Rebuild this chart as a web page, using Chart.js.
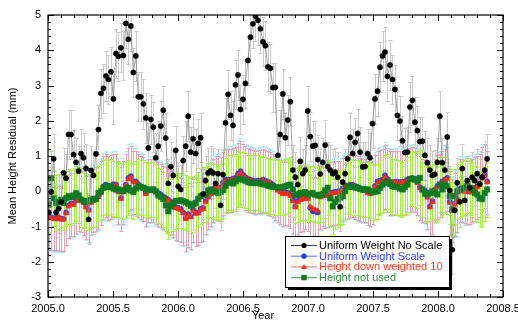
<!DOCTYPE html>
<html>
<head>
<meta charset="utf-8">
<script src="https://cdn.jsdelivr.net/npm/chart.js@4.4.1/dist/chart.umd.min.js"></script>
<style>
html,body{margin:0;padding:0;background:#fff;}
#wrap{width:518px;height:321px;position:relative;}
</style>
</head>
<body>
<div id="wrap"><canvas id="c" width="518" height="321"></canvas></div>
<script>
// Weekly sampling (decimal years)
const startYear = 2005.005;
const weekStep = 7 / 365.25;

const xTickLabels = ['2005.0','2005.5','2006.0','2006.5','2007.0','2007.5','2008.0','2008.5'];
const yTickLabels = ['-3','-2','-1','0','1','2','3','4','5'];
const seriesNames = ['Uniform Weight No Scale','Uniform Weight Scale','Height down weighted 10','Height not used'];

const noScaleVals = [
-0.60,-0.02,0.92,-0.60,-0.49,-0.30,0.52,0.37,1.61,1.61,
1.04,0.82,0.57,1.07,0.95,0.65,-0.80,0.59,0.45,1.06,
1.75,2.78,2.92,3.27,3.17,3.39,2.62,3.91,3.83,4.07,
3.85,4.76,4.31,4.69,3.37,3.84,2.68,2.68,2.48,2.08,
1.23,2.04,1.82,0.95,1.28,1.85,2.30,1.51,0.22,0.70,
0.45,1.16,0.14,0.05,0.87,1.28,2.13,1.11,1.49,1.07,
1.36,1.52,-0.08,0.30,0.52,0.58,0.52,0.22,0.50,-0.40,
0.47,1.94,2.75,2.15,1.87,3.02,3.30,2.32,2.61,3.06,
3.71,4.37,4.75,4.97,4.85,4.61,4.24,4.13,3.53,3.49,
2.94,2.95,1.02,1.61,2.76,1.52,2.02,2.54,0.60,0.40,
0.19,0.85,0.50,0.60,2.28,1.55,1.28,1.30,0.90,0.49,
0.82,1.31,0.70,0.60,0.50,0.54,0.40,-0.44,0.26,0.50,
0.92,1.53,1.07,1.39,1.64,1.11,0.69,0.70,1.07,0.95,
1.92,2.62,2.84,3.52,3.84,3.95,3.26,3.58,3.17,2.89,
2.15,1.99,1.43,1.10,1.11,2.39,2.58,1.96,1.72,1.41,
1.42,1.02,0.81,0.60,0.45,0.48,0.82,2.13,0.81,0.60,
1.54,0.02,-1.66,-0.54,0.24,-0.30,0.64,-0.26,0.30,0.10,
0.40,0.30,0.50,0.21,0.40,0.60,0.92];

const scaleVals = [
-0.71,-0.74,-0.76,-0.76,-0.74,-0.78,-0.78,-0.60,-0.40,-0.35,
-0.36,-0.25,-0.19,-0.22,-0.30,-0.43,-0.52,-0.30,-0.25,-0.20,
-0.14,-0.02,0.14,0.19,0.12,0.15,0.20,0.19,0.00,-0.19,
0.00,0.19,0.38,0.43,0.28,0.28,0.20,0.14,0.10,-0.05,
0.05,0.05,0.05,0.00,-0.05,-0.09,-0.15,-0.19,-0.24,-0.30,
-0.38,-0.45,-0.47,-0.50,-0.60,-0.76,-0.65,-0.71,-0.52,-0.61,
-0.60,-0.50,-0.47,-0.28,-0.15,-0.05,0.05,0.14,0.12,0.10,
0.25,0.33,0.33,0.33,0.36,0.38,0.50,0.57,0.47,0.40,
0.35,0.33,0.30,0.28,0.30,0.30,0.33,0.30,0.27,0.24,
0.19,0.12,0.05,0.00,-0.05,-0.02,-0.05,-0.10,-0.25,-0.43,
-0.28,-0.22,-0.20,-0.15,-0.19,-0.47,-0.57,-0.55,-0.60,-0.14,
-0.05,-0.10,-0.08,-0.05,-0.03,-0.02,0.00,0.00,0.08,0.14,
0.16,0.19,0.19,0.15,0.12,0.08,0.05,0.05,-0.02,-0.05,
0.00,0.15,0.28,0.30,0.33,0.45,0.35,0.26,0.26,0.27,
0.27,0.26,0.27,0.28,0.33,0.35,0.38,0.35,0.26,0.12,
0.05,0.02,-0.15,-0.43,-0.28,0.05,0.15,0.19,0.28,0.33,
0.38,-0.30,-0.52,-0.35,-0.24,0.05,0.05,0.02,0.00,0.00,
0.05,0.10,0.14,0.20,0.40,0.47,0.28];

const downWeightVals = [
-0.74,-0.76,-0.78,-0.78,-0.76,-0.80,-0.80,-0.63,-0.43,-0.38,
-0.38,-0.28,-0.22,-0.25,-0.33,-0.46,-0.55,-0.33,-0.27,-0.22,
-0.17,-0.05,0.11,0.16,0.09,0.12,0.17,0.16,-0.03,-0.22,
-0.03,0.16,0.34,0.39,0.25,0.25,0.17,0.11,0.07,-0.08,
0.02,0.02,0.02,-0.03,-0.08,-0.12,-0.18,-0.22,-0.27,-0.33,
-0.41,-0.48,-0.50,-0.53,-0.63,-0.79,-0.68,-0.74,-0.55,-0.64,
-0.63,-0.53,-0.50,-0.31,-0.18,-0.08,0.02,0.11,0.09,0.07,
0.22,0.30,0.30,0.30,0.33,0.35,0.46,0.53,0.44,0.37,
0.32,0.30,0.27,0.25,0.27,0.27,0.30,0.27,0.24,0.21,
0.16,0.09,0.02,-0.03,-0.08,-0.05,-0.08,-0.13,-0.28,-0.46,
-0.31,-0.25,-0.23,-0.18,-0.22,-0.44,-0.50,-0.52,-0.56,-0.17,
-0.08,-0.13,-0.11,-0.08,-0.06,-0.05,-0.03,-0.03,0.05,0.11,
0.13,0.16,0.16,0.12,0.09,0.05,0.02,0.02,-0.05,-0.08,
-0.03,0.12,0.25,0.27,0.30,0.41,0.32,0.23,0.23,0.24,
0.24,0.23,0.24,0.25,0.30,0.32,0.35,0.32,0.23,0.09,
0.02,-0.01,-0.18,-0.46,-0.31,0.02,0.12,0.16,0.25,0.30,
0.35,-0.33,-0.55,-0.38,-0.27,0.02,0.02,-0.01,-0.03,-0.03,
0.02,0.07,0.11,0.17,0.36,0.43,0.25];

const notUsedVals = [
-0.38,0.37,-0.20,-0.33,-0.30,-0.24,-0.33,-0.20,-0.14,-0.17,
-0.12,-0.05,-0.12,-0.24,-0.27,-0.31,-0.28,-0.24,-0.22,-0.22,
-0.05,0.00,0.10,0.14,0.12,0.14,0.08,0.05,0.05,0.03,
0.00,0.05,0.10,0.02,-0.02,0.08,0.14,0.12,0.10,0.06,
0.03,0.04,0.05,0.00,-0.12,-0.16,-0.22,-0.40,-0.57,-0.43,
-0.35,-0.28,-0.27,-0.26,-0.28,-0.31,-0.35,-0.41,-0.37,-0.33,
-0.22,-0.14,-0.10,-0.09,0.02,0.05,0.00,-0.02,-0.05,-0.02,
0.03,0.15,0.26,0.24,0.22,0.28,0.35,0.34,0.33,0.30,
0.26,0.24,0.24,0.24,0.24,0.22,0.20,0.19,0.16,0.14,
0.13,0.12,0.11,0.10,0.12,0.14,0.17,0.19,0.05,-0.12,
-0.08,-0.05,-0.04,-0.03,-0.09,-0.07,-0.05,-0.10,-0.12,-0.10,
-0.09,0.02,0.10,-0.20,-0.43,-0.30,-0.22,-0.18,-0.14,0.00,
0.14,0.13,0.12,0.11,0.10,0.07,0.05,0.05,0.05,0.01,
-0.03,-0.01,0.00,0.10,0.19,0.24,0.28,0.20,0.14,0.13,
0.12,0.08,0.05,0.12,0.19,0.35,0.35,0.33,0.30,0.38,
0.05,-0.07,-0.09,-0.05,0.00,-0.04,-0.09,0.19,0.05,0.20,
0.14,-0.14,-0.52,-0.14,0.00,0.05,0.08,0.10,0.15,0.10,
0.05,-0.05,-0.09,-0.20,-0.22,-0.05,0.05];

// one-sigma error bar half-lengths (mm)
const errHalf = [0.70, 0.95, 0.90, 0.78];

const years = noScaleVals.map((_, i) => +(startYear + i * weekStep).toFixed(4));
const toPts = vals => vals.map((v, i) => ({x: years[i], y: v}));

const FONT = "'Liberation Sans', Arial, Helvetica, sans-serif";
Chart.defaults.font.family = FONT;
Chart.defaults.font.size = 11;
Chart.defaults.color = '#000';

const styles = [
  {line:'#8c8c8c', pt:'#000000', err:'#c9c9c9', shape:'circle', r:2.6, text:'#000000', legLine:'#4a4a4a', order:0},
  {line:'#6f82ff', pt:'#2438f0', err:'#b4ecf4', shape:'circle', r:2.6, text:'#2b3bf5', legLine:'#6f82ff', order:3},
  {line:'#ff8a7a', pt:'#ff2a10', err:'#e3a3b8', shape:'triangle', r:3.2, text:'#ff3b1f', legLine:'#ff8a7a', order:2},
  {line:'#5aaa66', pt:'#0d7a22', err:'#a6ef3a', shape:'rect', r:3.9, text:'#2e8b3e', legLine:'#5aaa66', order:1}
];
const allVals = [noScaleVals, scaleVals, downWeightVals, notUsedVals];

const datasets = allVals.map((vals, k) => ({
  label: seriesNames[k],
  data: toPts(vals),
  showLine: true,
  borderColor: styles[k].line,
  borderWidth: 0.8,
  pointStyle: styles[k].shape,
  pointRadius: styles[k].r,
  pointBackgroundColor: styles[k].pt,
  pointBorderColor: styles[k].pt,
  pointBorderWidth: 0.5,
  order: styles[k].order,
  errHalf: errHalf[k],
  errColor: styles[k].err
}));

const errorBars = {
  id: 'errorBars',
  beforeDatasetsDraw(chart) {
    const {ctx, chartArea: a, scales: {x, y}} = chart;
    ctx.save();
    ctx.beginPath(); ctx.rect(a.left, a.top, a.right - a.left, a.bottom - a.top); ctx.clip();
    chart.data.datasets.forEach(ds => {
      ctx.strokeStyle = ds.errColor;
      ctx.lineWidth = 1;
      ctx.beginPath();
      ds.data.forEach(p => {
        const px = Math.round(x.getPixelForValue(p.x)) + 0.5;
        const y1 = Math.round(y.getPixelForValue(p.y + ds.errHalf)) + 0.5;
        const y2 = Math.round(y.getPixelForValue(p.y - ds.errHalf)) + 0.5;
        ctx.moveTo(px, y1); ctx.lineTo(px, y2);
        ctx.moveTo(px - 2, y1); ctx.lineTo(px + 2, y1);
        ctx.moveTo(px - 2, y2); ctx.lineTo(px + 2, y2);
      });
      ctx.stroke();
    });
    ctx.restore();
  }
};

const frameAndLegend = {
  id: 'frameAndLegend',
  afterDraw(chart) {
    const {ctx, chartArea: a, scales: {x, y}} = chart;
    ctx.save();
    // frame
    ctx.strokeStyle = '#000'; ctx.lineWidth = 1.2;
    ctx.strokeRect(a.left, a.top, a.right - a.left, a.bottom - a.top);
    // inward ticks
    ctx.lineWidth = 1;
    ctx.beginPath();
    for (let k = 0; k <= 35; k++) {
      const px = Math.round(x.getPixelForValue(2005 + k * 0.1)) + 0.5;
      const len = (k % 5 === 0) ? 6 : 3;
      ctx.moveTo(px, a.bottom); ctx.lineTo(px, a.bottom - len);
      ctx.moveTo(px, a.top); ctx.lineTo(px, a.top + len);
    }
    for (let k = 0; k <= 40; k++) {
      const py = Math.round(y.getPixelForValue(-3 + k * 0.2)) + 0.5;
      const len = (k % 5 === 0) ? 6 : 3;
      ctx.moveTo(a.left, py); ctx.lineTo(a.left + len, py);
      ctx.moveTo(a.right, py); ctx.lineTo(a.right - len, py);
    }
    ctx.stroke();

    // axis titles
    ctx.fillStyle = '#000';
    ctx.font = '11px ' + FONT;
    ctx.textAlign = 'center'; ctx.textBaseline = 'alphabetic';
    ctx.fillText('Year', 263, 319);
    ctx.save();
    ctx.translate(16, (a.top + a.bottom) / 2);
    ctx.rotate(-Math.PI / 2);
    ctx.fillText('Mean Height Residual (mm)', 0, 0);
    ctx.restore();

    // legend
    const bx = 285, by = 236, bw = 164, bh = 51;
    ctx.fillStyle = '#000';
    ctx.fillRect(bx + 3, by + 3, bw, bh);
    ctx.fillStyle = '#fff';
    ctx.fillRect(bx, by, bw, bh);
    ctx.strokeStyle = '#000'; ctx.lineWidth = 1;
    ctx.strokeRect(bx + 0.5, by + 0.5, bw, bh);
    ctx.textAlign = 'left'; ctx.textBaseline = 'middle';
    chart.data.datasets.forEach((ds, k) => {
      const st = styles[k];
      const cy = by + 9.5 + k * 10.7;
      ctx.strokeStyle = st.legLine; ctx.lineWidth = 1.2;
      ctx.beginPath(); ctx.moveTo(291, cy); ctx.lineTo(317, cy); ctx.stroke();
      ctx.fillStyle = st.pt;
      const mx = 304;
      ctx.beginPath();
      if (st.shape === 'circle') { ctx.arc(mx, cy, 2.6, 0, Math.PI * 2); }
      else if (st.shape === 'triangle') { ctx.moveTo(mx, cy - 3); ctx.lineTo(mx + 3, cy + 2.2); ctx.lineTo(mx - 3, cy + 2.2); ctx.closePath(); }
      else { ctx.rect(mx - 2.7, cy - 2.7, 5.4, 5.4); }
      ctx.fill();
      ctx.fillStyle = st.text;
      ctx.fillText(ds.label, 319, cy + 0.5);
    });
    ctx.restore();
  }
};

new Chart(document.getElementById('c'), {
  type: 'scatter',
  data: { datasets },
  options: {
    responsive: false,
    animation: false,
    devicePixelRatio: 1,
    layout: { padding: { top: 15, right: 15, left: 0, bottom: 0 } },
    plugins: { legend: { display: false }, tooltip: { enabled: false } },
    scales: {
      x: {
        type: 'linear', min: 2005, max: 2008.5,
        grid: { display: false, drawTicks: false },
        border: { display: false },
        ticks: { stepSize: 0.5, padding: 5, maxRotation: 0, autoSkip: false,
          callback: (v) => { const s = v.toFixed(1); return xTickLabels.includes(s) ? s : ''; } },
        afterFit(s) { s.height = 24; s.paddingLeft = 0; s.paddingRight = 0; }
      },
      y: {
        type: 'linear', min: -3, max: 5,
        grid: { display: false, drawTicks: false },
        border: { display: false },
        ticks: { stepSize: 1, padding: 7,
          callback: (v) => { const s = String(Math.round(v)); return yTickLabels.includes(s) ? s : ''; } },
        afterFit(s) { s.width = 48; s.paddingTop = 0; s.paddingBottom = 0; }
      }
    }
  },
  plugins: [errorBars, frameAndLegend]
});
</script>
</body>
</html>
